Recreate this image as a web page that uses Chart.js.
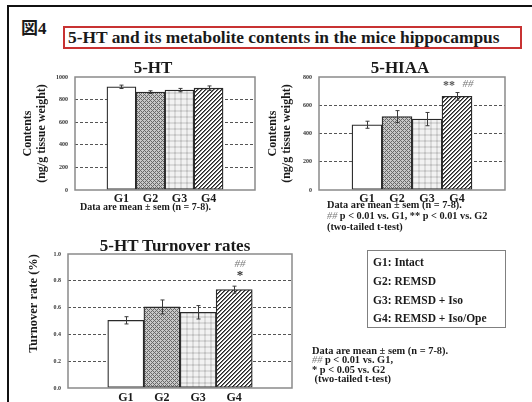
<!DOCTYPE html>
<html><head><meta charset="utf-8">
<script src="https://cdn.jsdelivr.net/npm/chart.js@4.4.0/dist/chart.umd.min.js"></script>
<style>
html,body{margin:0;padding:0;background:#fff;}
body{width:532px;height:402px;position:relative;overflow:hidden;font-family:"Liberation Serif","Times New Roman",serif;font-weight:bold;color:#1a1a1a;}
.abs{position:absolute;white-space:nowrap;}
.c{transform:translateX(-50%);}
canvas{position:absolute;}
.g{color:#7a7a7a;font-style:italic;font-weight:normal;}
</style></head><body>
<div class="abs" style="left:7px;top:5px;width:560px;height:420px;border-top:2px solid #111;border-left:2px solid #111;"></div>
<div class="abs" style="left:21px;top:17px;font-size:17px;line-height:20px;font-family:'Noto Sans CJK JP','Liberation Serif',serif;">図<span style="font-family:'Liberation Serif',serif;">4</span></div>
<div class="abs" style="left:63px;top:26px;width:459px;height:23px;box-sizing:border-box;border:2px solid #c83232;"></div>
<div class="abs" style="left:68px;top:28px;font-size:17.4px;line-height:19px;">5-HT and its metabolite contents in the mice hippocampus</div>

<canvas id="c1" width="262" height="150" style="left:0px;top:62px;"></canvas>
<canvas id="c2" width="264" height="150" style="left:262px;top:62px;"></canvas>
<canvas id="c3" width="300" height="164" style="left:0px;top:238px;"></canvas>

<div class="abs c" style="left:153px;top:58px;font-size:17px;line-height:20px;">5-HT</div>
<div class="abs" style="left:80px;top:201px;font-size:10px;line-height:11px;">Data are mean ± sem (n = 7-8).</div>

<div class="abs c" style="left:400px;top:58px;font-size:17px;line-height:20px;">5-HIAA</div>
<div class="abs" style="left:327px;top:199px;font-size:10.3px;line-height:11px;">Data are mean ± sem (n = 7-8).<br><span class="g">##</span> p &lt; 0.01 vs. G1, ** p &lt; 0.01 vs. G2<br>(two-tailed t-test)</div>
<div class="abs c" style="left:449px;top:79px;font-size:12px;line-height:13px;color:#555;">**</div>
<div class="abs c g" style="left:468px;top:77px;font-size:11px;line-height:12px;">##</div>

<div class="abs c" style="left:175px;top:236px;font-size:17px;line-height:20px;">5-HT Turnover rates</div>
<div class="abs c g" style="left:240px;top:257px;font-size:11px;line-height:12px;">##</div>
<div class="abs c" style="left:240px;top:268px;font-size:13px;line-height:13px;color:#333;">*</div>

<div class="abs" style="left:367px;top:250px;width:139px;height:78px;box-sizing:border-box;border:1.5px solid #808080;"></div>
<div class="abs" style="left:373px;top:253px;font-size:11.5px;line-height:18.8px;">G1: Intact<br>G2: REMSD<br>G3: REMSD + Iso<br>G4: REMSD + Iso/Ope</div>

<div class="abs" style="left:312px;top:346px;font-size:10.4px;line-height:9.4px;">Data are mean ± sem (n = 7-8).<br><span class="g">##</span> p &lt; 0.01 vs. G1,<br>* p &lt; 0.05 vs. G2<br>&nbsp;(two-tailed t-test)</div>

<script>
// ---- data ----
const groups = ['G1', 'G2', 'G3', 'G4'];
const htMean = [913, 866, 884, 901];
const htSem = [15, 12, 15, 20];
const htTicks = [0, 200, 400, 600, 800, 1000];
const hiaaMean = [462, 520, 502, 663];
const hiaaSem = [25, 42, 47, 27];
const hiaaTicks = [0, 200, 400, 600, 800];
const turnMean = [0.505, 0.605, 0.565, 0.734];
const turnSem = [0.027, 0.052, 0.05, 0.026];
const turnTicks = [0.0, 0.2, 0.4, 0.6, 0.8, 1.0];

const FAM = "'Liberation Serif','Times New Roman',serif";
const MARGIN = 1.1;

function tilePattern(size, fn) {
  const c = document.createElement('canvas');
  c.width = c.height = size;
  const x = c.getContext('2d');
  const img = x.createImageData(size, size);
  for (let j = 0; j < size; j++) for (let i = 0; i < size; i++) {
    const v = fn(i, j); const k = (j * size + i) * 4;
    img.data[k] = img.data[k + 1] = img.data[k + 2] = v; img.data[k + 3] = 255;
  }
  x.putImageData(img, 0, 0);
  return x.createPattern(c, 'repeat');
}
const fills = [
  '#ffffff',
  tilePattern(4, (i, j) => ((i + j) % 4 === 0 || (i - j + 8) % 4 === 0) ? 105 : 200),
  tilePattern(6, (i, j) => (i < 2 && j < 2) ? 195 : ((i < 2 || j < 2) ? 218 : 242)),
  tilePattern(4, (i, j) => { const m = (i + j) % 4; return m === 0 ? 35 : (m === 1 ? 120 : 255); })
];

const errorPlugin = {
  id: 'errorBars',
  afterDatasetsDraw(chart) {
    const ds = chart.data.datasets[0];
    const meta = chart.getDatasetMeta(0);
    const y = chart.scales.y;
    const ctx = chart.ctx;
    ctx.save();
    ctx.strokeStyle = '#3a3a3a'; ctx.lineWidth = 1;
    meta.data.forEach((bar, i) => {
      const v = ds.data[i].y, e = ds.sem[i];
      const y1 = y.getPixelForValue(v + e), y2 = y.getPixelForValue(v - e);
      const x = Math.round(bar.x) + 0.5;
      ctx.beginPath();
      ctx.moveTo(x, y1); ctx.lineTo(x, y2);
      ctx.moveTo(x - 2, y1); ctx.lineTo(x + 2, y1);
      ctx.moveTo(x - 2, y2); ctx.lineTo(x + 2, y2);
      ctx.stroke();
    });
    ctx.restore();
  }
};
const boxPlugin = {
  id: 'plotBox',
  afterDatasetsDraw(chart) {
    const a = chart.chartArea, ctx = chart.ctx;
    ctx.save();
    ctx.strokeStyle = '#8a8a8a'; ctx.lineWidth = 1.5;
    ctx.strokeRect(a.left, a.top, a.right - a.left, a.bottom - a.top);
    ctx.restore();
  }
};

function barChart(id, mean, sem, yTicks, fmt, L) {
  const yMin = yTicks[0], yMax = yTicks[yTicks.length - 1];
  return new Chart(document.getElementById(id), {
    type: 'bar',
    data: {
      datasets: [{
        data: mean.map((v, i) => ({ x: i, y: v })),
        sem: sem,
        backgroundColor: fills,
        borderColor: '#2a2a2a',
        borderWidth: 1.3,
        borderSkipped: false,
        categoryPercentage: 1,
        barPercentage: 1
      }]
    },
    options: {
      responsive: false, animation: false, events: [],
      layout: { padding: { left: 0, right: L.padR, top: L.padT, bottom: 0 } },
      plugins: { legend: { display: false }, tooltip: { enabled: false } },
      scales: {
        x: {
          type: 'linear', min: -0.5 - MARGIN, max: groups.length - 0.5 + MARGIN, offset: false,
          grid: { display: false, drawTicks: false, tickLength: 0 }, border: { display: false },
          afterBuildTicks: a => { a.ticks = groups.map((g, i) => ({ value: i })); },
          ticks: { callback: v => groups[v], font: { family: FAM, size: 12, weight: 'bold' }, color: '#1a1a1a', padding: L.xPad, maxRotation: 0, autoSkip: false },
          afterFit: s => { s.height = L.xH; }
        },
        y: {
          min: yMin, max: yMax,
          afterBuildTicks: a => { a.ticks = yTicks.map(v => ({ value: v })); },
          grid: {
            color: c => (c.tick && (c.tick.value === yMin || c.tick.value === yMax)) ? 'rgba(0,0,0,0)' : '#555',
            lineWidth: 1, drawTicks: false
          },
          border: { display: false, dash: [3, 2] },
          ticks: { font: { family: FAM, size: 6, weight: 'bold' }, color: '#333', padding: 7, callback: fmt, autoSkip: false },
          title: { display: true, text: L.title, align: L.align, font: { family: FAM, size: L.tSize, weight: 'bold', lineHeight: 14 / L.tSize }, color: '#1a1a1a', padding: { top: L.titlePad, bottom: 0 } },
          afterFit: s => { s.width = L.yW; }
        }
      }
    },
    plugins: [errorPlugin, boxPlugin]
  });
}

barChart('c1', htMean, htSem, htTicks, v => String(v),
  { padR: 7, padT: 15, xH: 22, xPad: 2, yW: 75, title: ['Contents', '(ng/g tissue weight)'], align: 'center', tSize: 12, titlePad: 21 });
barChart('c2', hiaaMean, hiaaSem, hiaaTicks, v => String(v),
  { padR: 21, padT: 15, xH: 22, xPad: 2, yW: 57, title: ['Contents', '(ng/g tissue weight)'], align: 'center', tSize: 12, titlePad: 4 });
barChart('c3', turnMean, turnSem, turnTicks, v => Number(v).toFixed(1),
  { padR: 8, padT: 16, xH: 14, xPad: 3, yW: 68, title: 'Turnover rate (%)', align: 'end', tSize: 12.5, titlePad: 27 });
</script>
</body></html>
